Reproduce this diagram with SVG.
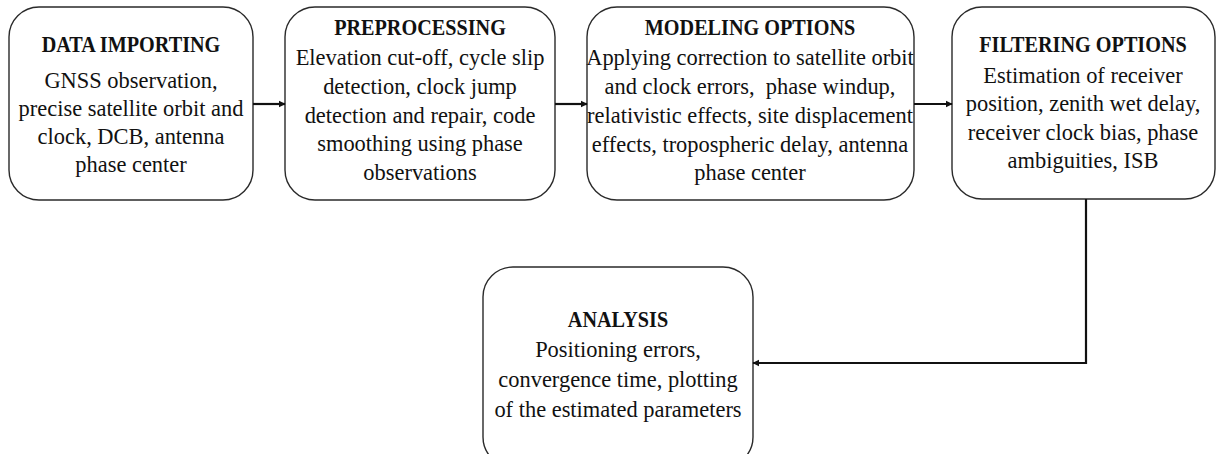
<svg xmlns="http://www.w3.org/2000/svg" width="1220" height="454" viewBox="0 0 1220 454">
  <style>
    .box { fill: #ffffff; stroke: #2a2a2a; stroke-width: 1.4; }
    .title { font-family: "Liberation Serif", "Times New Roman", serif; font-weight: bold; font-size: 23.5px; fill: #111; text-anchor: middle; }
    .body { font-family: "Liberation Serif", "Times New Roman", serif; font-size: 24px; fill: #111; text-anchor: middle; }
    .conn { fill: none; stroke: #111; stroke-width: 2.2; }
  </style>
  <defs>
    <marker id="arrow" viewBox="0 0 10 10" refX="9" refY="5" markerWidth="3.2" markerHeight="3.2" orient="auto" markerUnits="strokeWidth">
      <path d="M0,0 L10,5 L0,10 Z" fill="#111"/>
    </marker>
  </defs>
  <rect width="1220" height="454" fill="#ffffff"/>

  <!-- each label block is centred on its box; text is set in a narrowed serif -->
  <g id="data-importing">
    <rect class="box" x="9" y="7" width="244" height="193" rx="30" ry="30"/>
    <g transform="translate(131 0)">
      <text class="title" transform="scale(0.86 1)" x="0" y="52">DATA IMPORTING</text>
      <g transform="scale(0.935 1)">
        <text class="body" x="0" y="88">GNSS observation,</text>
        <text class="body" x="0" y="116">precise satellite orbit and</text>
        <text class="body" x="0" y="144">clock, DCB, antenna</text>
        <text class="body" x="0" y="172">phase center</text>
      </g>
    </g>
  </g>

  <g id="preprocessing">
    <rect class="box" x="285" y="7" width="270" height="193" rx="30" ry="30"/>
    <g transform="translate(420 0)">
      <text class="title" transform="scale(0.86 1)" x="0" y="35">PREPROCESSING</text>
      <g transform="scale(0.935 1)">
        <text class="body" x="0" y="65">Elevation cut-off, cycle slip</text>
        <text class="body" x="0" y="94">detection, clock jump</text>
        <text class="body" x="0" y="123">detection and repair, code</text>
        <text class="body" x="0" y="151">smoothing using phase</text>
        <text class="body" x="0" y="180">observations</text>
      </g>
    </g>
  </g>

  <g id="modeling-options">
    <rect class="box" x="587" y="7" width="327" height="193" rx="30" ry="30"/>
    <g transform="translate(750 0)">
      <text class="title" transform="scale(0.86 1)" x="0" y="35">MODELING OPTIONS</text>
      <g transform="scale(0.935 1)">
        <text class="body" x="0" y="65">Applying correction to satellite orbit</text>
        <text class="body" x="0" y="94" xml:space="preserve">and clock errors,  phase windup,</text>
        <text class="body" x="0" y="123">relativistic effects, site displacement</text>
        <text class="body" x="0" y="152">effects, tropospheric delay, antenna</text>
        <text class="body" x="0" y="180">phase center</text>
      </g>
    </g>
  </g>

  <g id="filtering-options">
    <rect class="box" x="952" y="7" width="263" height="192" rx="30" ry="30"/>
    <g transform="translate(1083 0)">
      <text class="title" transform="scale(0.86 1)" x="0" y="52">FILTERING OPTIONS</text>
      <g transform="scale(0.935 1)">
        <text class="body" x="0" y="83">Estimation of receiver</text>
        <text class="body" x="0" y="111">position, zenith wet delay,</text>
        <text class="body" x="0" y="140">receiver clock bias, phase</text>
        <text class="body" x="0" y="168">ambiguities, ISB</text>
      </g>
    </g>
  </g>

  <g id="analysis">
    <rect class="box" x="483" y="267" width="270" height="200" rx="30" ry="30"/>
    <g transform="translate(618 0)">
      <text class="title" transform="scale(0.86 1)" x="0" y="327">ANALYSIS</text>
      <g transform="scale(0.935 1)">
        <text class="body" x="0" y="357">Positioning errors,</text>
        <text class="body" x="0" y="387">convergence time, plotting</text>
        <text class="body" x="0" y="417">of the estimated parameters</text>
      </g>
    </g>
  </g>

  <g id="connectors">
    <line class="conn" x1="253" y1="104" x2="285" y2="104" marker-end="url(#arrow)"/>
    <line class="conn" x1="555" y1="104" x2="587" y2="104" marker-end="url(#arrow)"/>
    <line class="conn" x1="914" y1="104" x2="952" y2="104" marker-end="url(#arrow)"/>
    <polyline class="conn" points="1086,199 1086,363 753,363" marker-end="url(#arrow)"/>
  </g>
</svg>
